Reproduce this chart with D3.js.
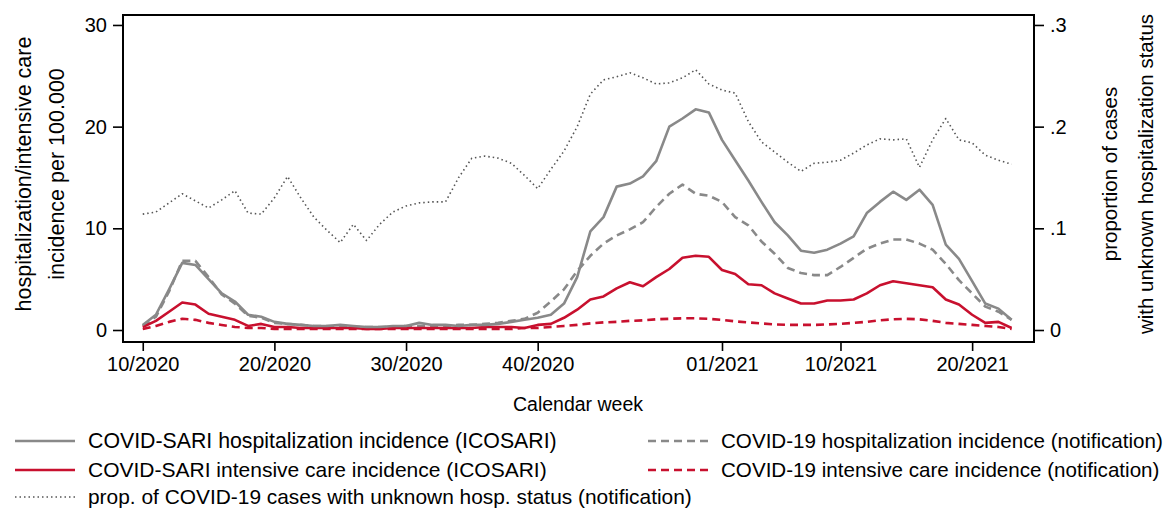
<!DOCTYPE html>
<html>
<head>
<meta charset="utf-8">
<script src="https://cdn.jsdelivr.net/npm/d3@7"></script>
<style>
  body { margin: 0; background: #fff; }
  svg { display: block; font-family: "Liberation Sans", Arial, sans-serif; }
</style>
</head>
<body>
<script>
// calendar weeks 10/2020 .. 23/2021 (2020 has 53 weeks)
var weeks = [];
for (var w = 10; w <= 53; w++) weeks.push(w + "/2020");
for (var w = 1; w <= 23; w++) weeks.push((w < 10 ? "0" + w : w) + "/2021");

var tickWeeks = ["10/2020", "20/2020", "30/2020", "40/2020", "01/2021", "10/2021", "20/2021"];
var leftTicks = [0, 10, 20, 30];
var rightTicks = [0, 0.1, 0.2, 0.3];

// COVID-SARI hospitalization incidence (ICOSARI)
var sariHosp = [0.5, 1.5, 4.0, 6.6, 6.4, 5.0, 3.6, 2.8, 1.5, 1.3,
  0.8, 0.6, 0.5, 0.4, 0.4, 0.5, 0.4, 0.3, 0.3, 0.4,
  0.4, 0.7, 0.5, 0.5, 0.4, 0.5, 0.5, 0.6, 0.8, 1.0,
  1.2, 1.5, 2.6, 5.2, 9.7, 11.1, 14.1, 14.4, 15.1, 16.6,
  20.0, 20.8, 21.7, 21.4, 18.7, 16.7, 14.7, 12.6, 10.6, 9.3,
  7.8, 7.6, 7.9, 8.5, 9.2, 11.5, 12.6, 13.6, 12.8, 13.8,
  12.3, 8.4, 7.0, 4.8, 2.6, 2.1, 1.0];

// COVID-19 hospitalization incidence (notification)
var notifHosp = [0.4, 1.3, 3.8, 6.8, 6.8, 5.2, 3.5, 2.6, 1.4, 1.2,
  0.7, 0.6, 0.5, 0.4, 0.4, 0.4, 0.3, 0.3, 0.3, 0.3,
  0.4, 0.4, 0.4, 0.4, 0.5, 0.5, 0.6, 0.7, 0.9, 1.1,
  1.7, 2.8, 4.0, 5.8, 7.3, 8.5, 9.3, 9.9, 10.6, 12.1,
  13.4, 14.3, 13.4, 13.2, 12.6, 11.1, 10.3, 8.7, 7.5, 6.1,
  5.6, 5.4, 5.4, 6.2, 7.1, 8.0, 8.5, 8.9, 8.9, 8.5,
  7.9, 6.5, 4.9, 3.6, 2.3, 1.8, 1.0];

// COVID-SARI intensive care incidence (ICOSARI)
var sariIcu = [0.3, 0.9, 1.8, 2.7, 2.5, 1.6, 1.3, 1.0, 0.4, 0.6,
  0.3, 0.3, 0.2, 0.2, 0.2, 0.2, 0.2, 0.1, 0.1, 0.2,
  0.2, 0.2, 0.2, 0.2, 0.2, 0.2, 0.3, 0.3, 0.3, 0.2,
  0.5, 0.6, 1.2, 2.0, 3.0, 3.3, 4.1, 4.7, 4.3, 5.2,
  6.0, 7.1, 7.3, 7.2, 5.9, 5.5, 4.5, 4.4, 3.6, 3.1,
  2.6, 2.6, 2.9, 2.9, 3.0, 3.6, 4.4, 4.8, 4.6, 4.4,
  4.2, 3.0, 2.5, 1.5, 0.7, 0.8, 0.2];

// COVID-19 intensive care incidence (notification)
var notifIcu = [0.1, 0.4, 0.8, 1.1, 1.0, 0.7, 0.5, 0.3, 0.2, 0.2,
  0.1, 0.1, 0.1, 0.1, 0.1, 0.1, 0.1, 0.1, 0.1, 0.1,
  0.1, 0.1, 0.1, 0.1, 0.1, 0.1, 0.1, 0.1, 0.1, 0.2,
  0.2, 0.3, 0.4, 0.5, 0.65, 0.75, 0.8, 0.9, 0.95, 1.05,
  1.1, 1.15, 1.15, 1.1, 1.0, 0.85, 0.75, 0.65, 0.55, 0.5,
  0.5, 0.5, 0.55, 0.6, 0.7, 0.8, 0.95, 1.05, 1.1, 1.05,
  0.9, 0.7, 0.6, 0.5, 0.4, 0.3, 0.1];

// prop. of COVID-19 cases with unknown hosp. status (notification)
var propUnknown = [0.114, 0.116, 0.125, 0.134, 0.127, 0.120, 0.128, 0.137, 0.115, 0.114,
  0.130, 0.151, 0.130, 0.111, 0.098, 0.086, 0.104, 0.088, 0.104, 0.116,
  0.122, 0.125, 0.126, 0.126, 0.150, 0.169, 0.171, 0.169, 0.164, 0.152,
  0.139, 0.158, 0.176, 0.200, 0.232, 0.246, 0.249, 0.253, 0.248, 0.242,
  0.243, 0.248, 0.256, 0.242, 0.236, 0.233, 0.205, 0.185, 0.175, 0.165,
  0.156, 0.164, 0.165, 0.167, 0.174, 0.182, 0.188, 0.187, 0.188, 0.160,
  0.187, 0.208, 0.187, 0.184, 0.172, 0.167, 0.163];

var W = 1168, H = 513;
var box = {left: 123, right: 1034, top: 15, bottom: 342};
var grey = "#898989", red = "#c8102e", dotc = "#555";

var svg = d3.select("body").append("svg").attr("width", W).attr("height", H);

var x = d3.scaleLinear().domain([-1.5, 67.7]).range([box.left, box.right]);
var y = d3.scaleLinear().domain([-1.18, 30.98]).range([box.bottom, box.top]);
var y2 = d3.scaleLinear().domain([-0.0118, 0.3098]).range([box.bottom, box.top]);

// axes
var xAxis = d3.axisBottom(x)
  .tickValues(tickWeeks.map(function(t) { return weeks.indexOf(t); }))
  .tickFormat(function(i) { return weeks[i]; })
  .tickSize(9).tickPadding(6);
var gx = svg.append("g").attr("transform", "translate(0," + box.bottom + ")").call(xAxis);

var gy = svg.append("g").attr("transform", "translate(" + box.left + ",0)")
  .call(d3.axisLeft(y).tickValues(leftTicks).tickSize(10).tickPadding(6));

var gy2 = svg.append("g").attr("transform", "translate(" + box.right + ",0)")
  .call(d3.axisRight(y2).tickValues(rightTicks).tickSize(10).tickPadding(6)
    .tickFormat(function(d) { return d === 0 ? "0" : d3.format(".1f")(d).replace(/^0/, ""); }));

[gx, gy, gy2].forEach(function(g) {
  g.select(".domain").remove();
  g.selectAll(".tick line").attr("stroke", "#000").attr("stroke-width", 1.6);
  g.selectAll(".tick text").attr("font-size", 20).attr("fill", "#000")
    .attr("font-family", "Liberation Sans, Arial, sans-serif");
});

svg.append("rect")
  .attr("x", box.left).attr("y", box.top)
  .attr("width", box.right - box.left).attr("height", box.bottom - box.top)
  .attr("fill", "none").attr("stroke", "#000").attr("stroke-width", 2);

// axis titles
svg.append("text").attr("x", 578).attr("y", 411).attr("text-anchor", "middle")
  .attr("font-size", 19.5).text("Calendar week");

var lt = svg.append("text").attr("transform", "translate(0,174) rotate(-90)")
  .attr("text-anchor", "middle").attr("font-size", 21.5);
lt.append("tspan").attr("x", 0).attr("y", 31).text("hospitalization/intensive care");
lt.append("tspan").attr("x", 0).attr("y", 64).text("incidence per 100.000");

var rt = svg.append("text").attr("transform", "translate(0,174) rotate(-90)")
  .attr("text-anchor", "middle").attr("font-size", 20.5);
rt.append("tspan").attr("x", 0).attr("y", 1117).text("proportion of cases");
rt.append("tspan").attr("x", 0).attr("y", 1153).text("with unknown hospitalization status");

// lines
var series = [
  {values: propUnknown, scale: y2, color: dotc, width: 1.6, dash: "1.5,3",
   label: "prop. of COVID-19 cases with unknown hosp. status (notification)", lx: 15, ly: 497, fs: 20.9},
  {values: notifIcu, scale: y, color: red, width: 2.6, dash: "8,5",
   label: "COVID-19 intensive care incidence (notification)", lx: 648, ly: 470, fs: 20.6},
  {values: notifHosp, scale: y, color: grey, width: 2.6, dash: "8,5",
   label: "COVID-19 hospitalization incidence (notification)", lx: 648, ly: 441, fs: 20.6},
  {values: sariIcu, scale: y, color: red, width: 2.6, dash: null,
   label: "COVID-SARI intensive care incidence (ICOSARI)", lx: 15, ly: 470, fs: 21},
  {values: sariHosp, scale: y, color: grey, width: 2.6, dash: null,
   label: "COVID-SARI hospitalization incidence (ICOSARI)", lx: 15, ly: 441, fs: 21.3}
];

series.forEach(function(s) {
  var line = d3.line()
    .x(function(d, i) { return x(i); })
    .y(function(d) { return s.scale(d); });
  svg.append("path").datum(s.values)
    .attr("d", line)
    .attr("fill", "none")
    .attr("stroke", s.color)
    .attr("stroke-width", s.width)
    .attr("stroke-linejoin", "round")
    .attr("stroke-dasharray", s.dash);

  // legend entry
  svg.append("line")
    .attr("x1", s.lx).attr("x2", s.lx + 60)
    .attr("y1", s.ly).attr("y2", s.ly)
    .attr("stroke", s.color).attr("stroke-width", s.width)
    .attr("stroke-dasharray", s.dash);
  svg.append("text")
    .attr("x", s.lx + 73).attr("y", s.ly)
    .attr("dy", "0.35em").attr("font-size", s.fs)
    .text(s.label);
});
</script>
</body>
</html>
